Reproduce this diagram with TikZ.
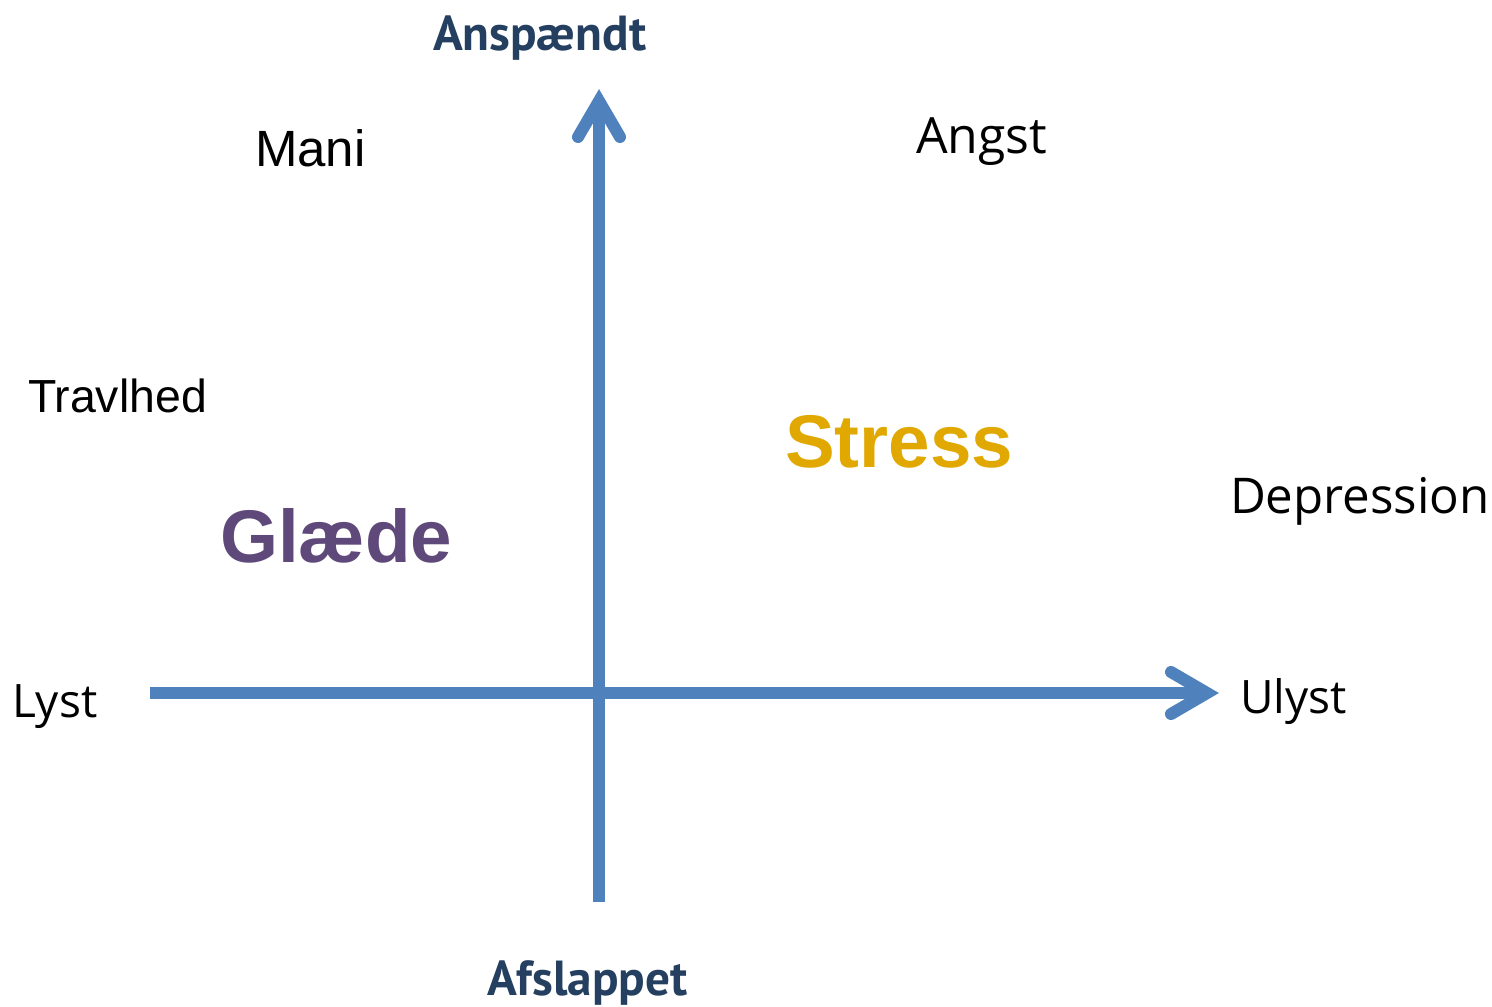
\documentclass[tikz,border=0pt]{standalone}
\usepackage{fontspec}
\setmainfont{Liberation Sans}
\newfontfamily\uifont{Open Sans}
\newfontfamily\headfont{PT Sans}
\usetikzlibrary{calc}
\definecolor{axisblue}{HTML}{4F81BD}
\definecolor{polenavy}{HTML}{243F60}
\definecolor{joypurple}{HTML}{5F497A}
\definecolor{stressgold}{HTML}{E0A800}
\tikzset{
  axis/.style={draw=axisblue, line width=0.12cm, line cap=butt},
  chevron/.style={draw=axisblue, line width=0.12cm, line cap=round, line join=miter},
  lbl/.style={anchor=base west, inner sep=0pt, outer sep=0pt},
  pole/.style={lbl, text=polenavy, font=\headfont\bfseries\fontsize{14}{17}\selectfont},
  state/.style={lbl, text=black, font=\uifont\fontsize{14.2}{17}\selectfont},
  sidepole/.style={lbl, text=black, font=\uifont\fontsize{13.1}{16}\selectfont},
  arial/.style={lbl, text=black},
  big/.style={lbl, font=\bfseries\fontsize{21.2}{25}\selectfont},
}
\begin{document}
\begin{tikzpicture}[x=0.01cm, y=-0.01cm]
  \useasboundingbox (0,0) rectangle (1492,1006);

  % axis end points
  \coordinate (west) at (150,693);
  \coordinate (east) at (1207,693);
  \coordinate (south) at (599,902);
  \coordinate (north) at (599,101);

  % axes
  \draw[axis] (west) -- (east);
  \draw[axis] (south) -- (north);

  % open arrow heads
  \draw[chevron] ($(east)+(-36,-21)$) -- (east) -- ($(east)+(-36,21)$);
  \draw[chevron] ($(north)+(-21,36)$) -- (north) -- ($(north)+(21,36)$);

  % pole labels
  \node[pole] (anspaendt) at (433,50) {Anspændt};
  \node[pole] (afslappet) at (487,995) {Afslappet};
  \node[sidepole] (lyst) at (12,717) {Lyst};
  \node[sidepole] (ulyst) at (1240,713) {Ulyst};

  % states in the quadrants
  \node[arial, font=\fontsize{14.5}{17}\selectfont] (mani) at (255,166) {Mani};
  \node[arial, font=\fontsize{13.2}{15}\selectfont] (travlhed) at (28,412) {Travlhed};
  \node[state] (angst) at (916,153) {Angst};
  \node[state, font=\uifont\fontsize{14}{17}\selectfont] (depression) at (1230,513) {Depression};

  \node[big, text=stressgold] (stress) at (785,467) {Stress};
  \node[big, text=joypurple] (glaede) at (220,562) {Glæde};
\end{tikzpicture}
\end{document}
